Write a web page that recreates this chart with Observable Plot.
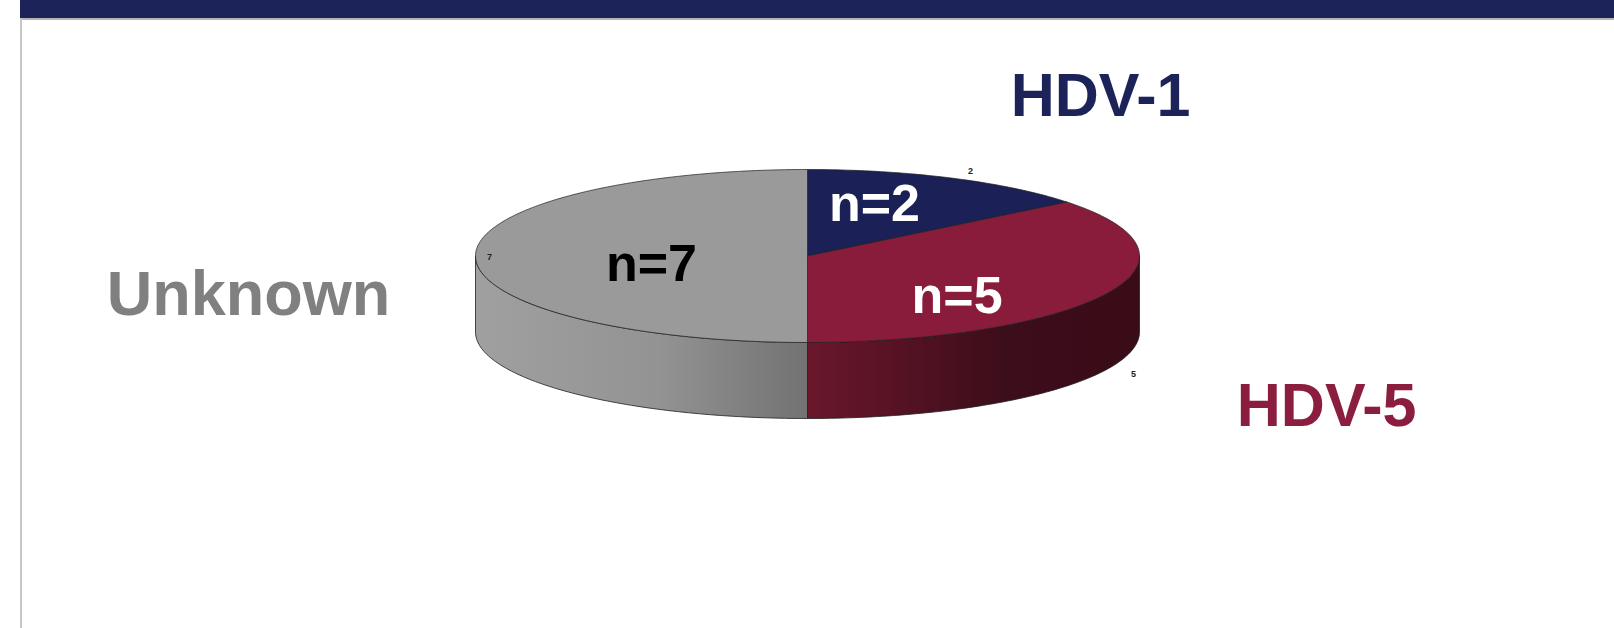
<!DOCTYPE html>
<html><head><meta charset="utf-8">
<script src="https://cdn.jsdelivr.net/npm/d3@7"></script>
<script src="https://cdn.jsdelivr.net/npm/@observablehq/plot@0.6"></script>
<style>
html,body{margin:0;padding:0;background:#fff;}
#wrap{position:relative;width:1614px;height:628px;overflow:hidden;background:#fff;}
#bar{position:absolute;left:20px;top:0;width:1594px;height:18px;background:#1b2359;z-index:2}
#barline{position:absolute;left:20px;top:18px;width:1594px;height:2px;background:#b4b4b4;z-index:2}
#leftline{position:absolute;left:20px;top:18px;width:2px;height:610px;background:#c6c6c6;z-index:2}
#chart{position:absolute;left:0;top:0;}
</style></head><body>
<div id="wrap"><div id="bar"></div><div id="barline"></div><div id="leftline"></div><div id="chart"></div></div>
<script>
// ---- data ----
const categories = ["HDV-1", "HDV-5", "Unknown"];
const counts = [2, 5, 7];
const sliceLabels = ["n=2", "n=5", "n=7"];

// ---- styles ----
const topColors = ["#1b2157", "#8a1c3b", "#9a9a9a"];
const sideFills = ["#0f1436", "url(#sideGrad1)", "url(#sideGrad2)"];
const nameColors = ["#1b2359", "#8b1e3f", "#808080"];
const nameSizes = [61, 61, 63];
const innerColors = ["#ffffff", "#ffffff", "#000000"];
// label offsets (pixels) relative to slice mid-angle anchor points
const innerOffsets = [[-5, 3.5], [0, 38], [10, 24.5]];
const nameOffsets = [[149, -62.5], [220, 132], [-227, 58.5]];
const smallOffsets = [[19, -4.5], [27, 83], [14, 3.5]];

// ---- layout ----
const W = 1614, H = 628;
const cx = 807, cy = 255.5, rx = 332, ry = 86.5, depth = 76;
const D = depth / ry;

const total = d3.sum(counts);
let acc = 0;
const slices = categories.map((c, i) => {
  const a0 = acc / total * 2 * Math.PI; acc += counts[i];
  const a1 = acc / total * 2 * Math.PI;
  return {c, i, a0, a1, mid: (a0 + a1) / 2};
});

function arc(a0, a1, off) {
  const n = Math.max(2, Math.ceil((a1 - a0) / (Math.PI / 180)));
  return d3.range(n + 1).map(k => {
    const t = a0 + (a1 - a0) * k / n;
    return {x: Math.sin(t), y: -Math.cos(t) + off};
  });
}

const marks = [];
// side faces (visible front half)
slices.forEach(s => {
  const s0 = Math.max(s.a0, Math.PI / 2), s1 = Math.min(s.a1, 3 * Math.PI / 2);
  if (s1 > s0) {
    const pts = arc(s0, s1, 0).concat(arc(s0, s1, D).reverse());
    pts.push(pts[0]);
    marks.push(Plot.line(pts, {x: "x", y: "y", fill: sideFills[s.i], stroke: "#1e1e1e", strokeWidth: 0.8, curve: "linear"}));
  }
});
// top faces
slices.forEach(s => {
  const pts = [{x: 0, y: 0}, ...arc(s.a0, s.a1, 0), {x: 0, y: 0}];
  marks.push(Plot.line(pts, {x: "x", y: "y", fill: topColors[s.i], stroke: "#1e1e1e", strokeWidth: 0.7, curve: "linear"}));
});
// inner n= labels
slices.forEach(s => {
  marks.push(Plot.text([s], {
    x: d => 0.5 * Math.sin(d.mid), y: d => -0.5 * Math.cos(d.mid),
    text: d => sliceLabels[d.i], dx: innerOffsets[s.i][0], dy: innerOffsets[s.i][1],
    fill: innerColors[s.i], fontSize: 52, fontWeight: "bold",
    fontFamily: "Liberation Sans, Arial, sans-serif", textAnchor: "middle", lineAnchor: "bottom"
  }));
});
// category names
slices.forEach(s => {
  marks.push(Plot.text([s], {
    x: d => Math.sin(d.mid), y: d => -Math.cos(d.mid),
    text: d => d.c, dx: nameOffsets[s.i][0], dy: nameOffsets[s.i][1],
    fill: nameColors[s.i], fontSize: nameSizes[s.i], fontWeight: "bold",
    fontFamily: "Liberation Sans, Arial, sans-serif", textAnchor: "middle", lineAnchor: "bottom"
  }));
});
// small value labels
slices.forEach(s => {
  marks.push(Plot.text([s], {
    x: d => Math.sin(d.mid), y: d => -Math.cos(d.mid),
    text: d => String(counts[d.i]), dx: smallOffsets[s.i][0], dy: smallOffsets[s.i][1],
    fill: "#222", fontSize: 9, fontWeight: "bold",
    fontFamily: "Liberation Sans, Arial, sans-serif", textAnchor: "middle", lineAnchor: "bottom"
  }));
});

const svg = Plot.plot({
  width: W, height: H, margin: 0,
  style: {background: "transparent", overflow: "visible"},
  x: {domain: [-1, 1], range: [cx - rx, cx + rx], axis: null},
  y: {domain: [-1, 1], range: [cy - ry, cy + ry], axis: null},
  marks
});

const defs = d3.select(svg).insert("defs", ":first-child");
const g1 = defs.append("linearGradient").attr("id", "sideGrad1").attr("x1", "0").attr("x2", "1").attr("y1", "0").attr("y2", "0");
g1.append("stop").attr("offset", "0").attr("stop-color", "#6b172b");
g1.append("stop").attr("offset", "0.6").attr("stop-color", "#3c0d1a");
g1.append("stop").attr("offset", "1").attr("stop-color", "#390c18");
const g2 = defs.append("linearGradient").attr("id", "sideGrad2").attr("x1", "0").attr("x2", "1").attr("y1", "0").attr("y2", "0");
g2.append("stop").attr("offset", "0").attr("stop-color", "#a0a0a0");
g2.append("stop").attr("offset", "0.55").attr("stop-color", "#939393");
g2.append("stop").attr("offset", "1").attr("stop-color", "#727272");

document.getElementById("chart").appendChild(svg);
</script>
</body></html>
